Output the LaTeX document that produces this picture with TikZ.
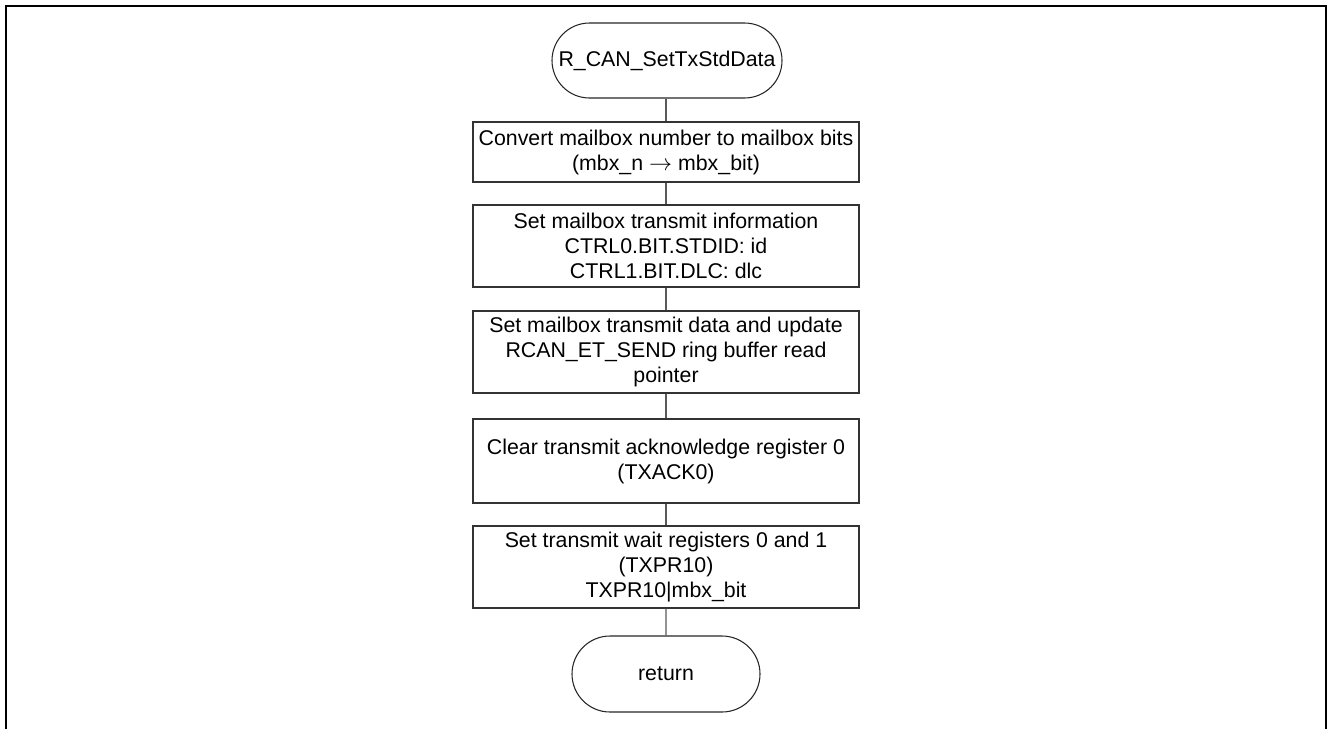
\documentclass[tikz,border=0pt]{standalone}
\usepackage{fontspec}
\setmainfont{Liberation Sans}
\usetikzlibrary{shapes.misc}
\begin{document}
\begin{tikzpicture}[x=0.75pt,y=-0.75pt,
  every node/.style={font=\fontsize{16}{18.75}\selectfont, inner sep=0pt},
  procbox/.style={draw=black!80, line width=0.8pt, minimum width=289.5pt, align=center},
  terminal/.style={draw=black!85, line width=0.8pt, rounded rectangle, rounded rectangle arc length=180, align=center},
  link/.style={draw=black!65, line width=0.8pt},
  frame/.style={line width=1.6pt}]
  \useasboundingbox (0,0) rectangle (1328,729);
  % open frame around the chart
  \draw[frame] (6,729) -- (6,6) -- (1326,6) -- (1326,729);

  \node[terminal, minimum width=172.5pt, minimum height=56.25pt] (start) at (667,60.5) {R\_CAN\_SetTxStdData};
  \node[procbox, minimum height=45pt] (conv) at (666,152)
    {Convert mailbox number to mailbox bits\\(mbx\_n \ensuremath{\rightarrow} mbx\_bit)};
  \node[procbox, minimum height=61.5pt] (info) at (666,246)
    {Set mailbox transmit information\\CTRL0.BIT.STDID: id\\CTRL1.BIT.DLC: dlc};
  \node[procbox, minimum height=61.5pt] (data) at (666,352)
    {Set mailbox transmit data and update\\RCAN\_ET\_SEND ring buffer read\\pointer};
  \node[procbox, minimum height=63pt] (ack) at (666,461)
    {Clear transmit acknowledge register 0\\(TXACK0)};
  \node[procbox, minimum height=61.5pt] (wait) at (666,567)
    {Set transmit wait registers 0 and 1\\(TXPR10)\\TXPR10|mbx\_bit};
  \node[terminal, minimum width=141pt, minimum height=57pt] (ret) at (666,674) {return};

  \draw[link] (start.south -| conv.north) -- (conv.north);
  \draw[link] (conv) -- (info);
  \draw[link] (info) -- (data);
  \draw[link] (data) -- (ack);
  \draw[link] (ack) -- (wait);
  \draw[link] (wait) -- (ret);
\end{tikzpicture}
\end{document}
